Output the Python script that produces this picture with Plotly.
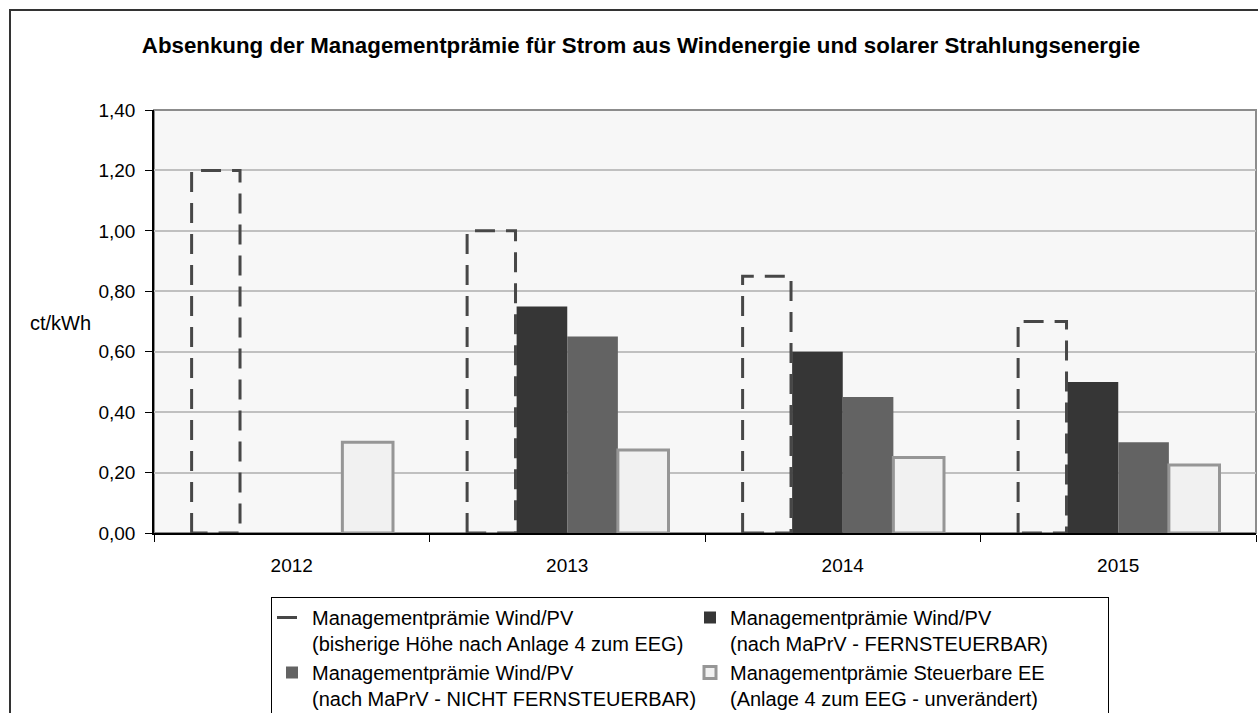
import plotly.graph_objects as go

# ---- data ----
years = ["2012", "2013", "2014", "2015"]
bisherig = [1.20, 1.00, 0.85, 0.70]          # dashed outline series
fernsteuerbar = [None, 0.75, 0.60, 0.50]
nicht_fernsteuerbar = [None, 0.65, 0.45, 0.30]
steuerbare_ee = [0.30, 0.275, 0.25, 0.225]

names = [
    "Managementprämie Wind/PV<br>(bisherige Höhe nach Anlage 4 zum EEG)",
    "Managementprämie Wind/PV<br>(nach MaPrV - FERNSTEUERBAR)",
    "Managementprämie Wind/PV<br>(nach MaPrV - NICHT FERNSTEUERBAR)",
    "Managementprämie Steuerbare EE<br>(Anlage 4 zum EEG - unverändert)",
]
y_ticks = [0, 0.2, 0.4, 0.6, 0.8, 1.0, 1.2, 1.4]

# ---- geometry / style ----
# The chart continues below the visible 713 px window (legend & frame are cut off
# in the reference), so the figure is drawn a bit taller than the window.
W, H = 1258, 745
ML, MR, MT = 154, 2, 110
PLOT_BOTTOM = 533
MB = H - PLOT_BOTTOM
PW, PH = W - ML - MR, H - MT - MB
BARGAP = 0.265
NSER = 4
slot = (1 - BARGAP) / NSER
FONT = "Liberation Sans, Arial, sans-serif"


def px_x(p):
    return (p - ML) / PW


def px_y(p):
    return (H - MB - p) / PH


fig = go.Figure()

# dashed outline of the first series, drawn on an overlaid numeric x axis
ox, oy = [], []
inset = 0.004
for i, v in enumerate(bisherig):
    x0 = i - 2 * slot + inset
    x1 = i - slot - inset
    ox += [x0, x0, x1, x1, x0, None]
    oy += [0, v, v, 0, 0, None]
fig.add_trace(go.Scatter(
    x=ox, y=oy, xaxis="x2", yaxis="y", mode="lines",
    line=dict(color="#474747", width=3, dash="20px,11px"),
    name=names[0], hoverinfo="skip", showlegend=True,
))

# invisible bar to reserve the slot of the first series
fig.add_trace(go.Bar(
    x=years, y=bisherig, name=names[0], showlegend=False,
    marker=dict(color="rgba(0,0,0,0)", line=dict(width=0)),
))
fig.add_trace(go.Bar(
    x=years, y=fernsteuerbar, name=names[1],
    marker=dict(color="#363636", line=dict(width=0)),
))
fig.add_trace(go.Bar(
    x=years, y=nicht_fernsteuerbar, name=names[2],
    marker=dict(color="#636363", line=dict(width=0)),
))
fig.add_trace(go.Bar(
    x=years, y=steuerbare_ee, name=names[3],
    marker=dict(color="#f1f1f1", line=dict(color="#969696", width=3)),
))

fig.update_layout(
    width=W, height=H,
    margin=dict(l=ML, r=MR, t=MT, b=MB, pad=0, autoexpand=False),
    paper_bgcolor="white",
    plot_bgcolor="#f7f7f7",
    separators=",.",
    barmode="group",
    bargap=BARGAP,
    bargroupgap=0,
    font=dict(family=FONT, size=19, color="black"),
    title=dict(
        text="<b>Absenkung der Managementprämie für Strom aus Windenergie und solarer Strahlungsenergie</b>",
        font=dict(family=FONT, size=22.3, color="black"),
        x=641 / W, xanchor="center", xref="container",
        y=1 - 45 / H, yanchor="middle", yref="container",
    ),
    xaxis=dict(
        type="category", categoryorder="array", categoryarray=years,
        range=[-0.5, 3.5],
        showline=True, linecolor="black", linewidth=1.5,
        ticks="outside", ticklen=7, tickwidth=1, tickcolor="black",
        tickson="boundaries",
        showgrid=False, zeroline=False,
        tickfont=dict(size=19),
        ticklabelstandoff=14,
        fixedrange=True,
    ),
    xaxis2=dict(
        overlaying="x", range=[-0.5, 3.5], visible=False, fixedrange=True,
    ),
    yaxis=dict(
        range=[0, 1.4], tickvals=y_ticks, tickformat=".2f",
        showline=True, linecolor="black", linewidth=1.5,
        ticks="outside", ticklen=7, tickwidth=1, tickcolor="black",
        showgrid=True, gridcolor="#c0c0c0", gridwidth=1.5,
        zeroline=False,
        tickfont=dict(size=19),
        ticklabelstandoff=6,
        fixedrange=True,
    ),
    legend=dict(
        orientation="h",
        x=px_x(271), xanchor="left",
        y=px_y(597), yanchor="top",
        bgcolor="white", bordercolor="black", borderwidth=1,
        font=dict(family=FONT, size=20, color="black"),
        entrywidth=373, entrywidthmode="pixels",
        valign="top",
        traceorder="normal",
    ),
    showlegend=True,
    shapes=[
        # plot area border (top/right grey)
        dict(type="rect", xref="paper", yref="paper", x0=0, y0=0, x1=1, y1=1,
             line=dict(color="#8c8c8c", width=2), fillcolor="rgba(0,0,0,0)",
             layer="below"),
        # outer chart frame
        dict(type="rect", xref="paper", yref="paper",
             x0=px_x(10), y0=px_y(H + 40), x1=px_x(W + 40), y1=px_y(10),
             line=dict(color="#333333", width=2), fillcolor="rgba(0,0,0,0)",
             layer="below"),
    ],
    annotations=[
        dict(text="ct/kWh", xref="paper", yref="paper",
             x=px_x(28), xanchor="left", y=px_y(323), yanchor="middle",
             showarrow=False, font=dict(family=FONT, size=20, color="black")),
    ],
)

fig.write_html(
    "out.html",
    config={"displayModeBar": False},
    post_script="document.body.style.margin='0';document.body.style.overflow='hidden';",
)
